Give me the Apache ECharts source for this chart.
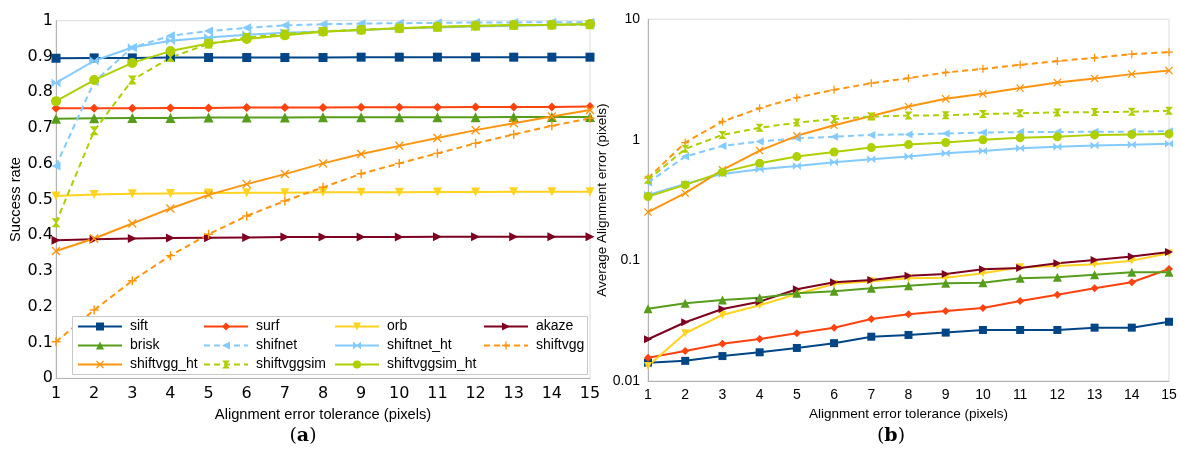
<!DOCTYPE html>
<html>
<head>
<meta charset="utf-8">
<script src="https://cdn.jsdelivr.net/npm/echarts@6/dist/echarts.min.js"></script>
<style>html,body{margin:0;padding:0;background:#fff}#c{width:1180px;height:450px}</style>
</head>
<body>
<div id="c"></div>
<script>
// ---- data ----
var categories = ['1','2','3','4','5','6','7','8','9','10','11','12','13','14','15'];
var leftTicks = ['0','0.1','0.2','0.3','0.4','0.5','0.6','0.7','0.8','0.9','1'];
var rightTicks = ['0.01','0.1','1','10'];

// (a) Success rate
var sift_sr = [0.895,0.896,0.896,0.897,0.897,0.897,0.897,0.897,0.898,0.898,0.898,0.898,0.898,0.898,0.898];
var surf_sr = [0.755,0.755,0.755,0.756,0.756,0.757,0.757,0.757,0.758,0.758,0.758,0.759,0.759,0.759,0.760];
var orb_sr = [0.510,0.514,0.516,0.517,0.518,0.519,0.519,0.520,0.520,0.520,0.521,0.521,0.522,0.522,0.522];
var akaze_sr = [0.386,0.389,0.391,0.392,0.393,0.394,0.395,0.395,0.395,0.395,0.396,0.396,0.396,0.396,0.396];
var brisk_sr = [0.726,0.727,0.728,0.728,0.729,0.729,0.729,0.730,0.730,0.730,0.730,0.730,0.731,0.731,0.731];
var shifnet_sr = [0.594,0.829,0.925,0.958,0.971,0.980,0.987,0.990,0.992,0.993,0.994,0.995,0.995,0.996,0.996];
var shiftnet_ht_sr = [0.826,0.888,0.925,0.944,0.953,0.961,0.966,0.970,0.974,0.978,0.981,0.984,0.986,0.988,0.990];
var shiftvgg_sr = [0.102,0.191,0.273,0.343,0.403,0.454,0.496,0.534,0.572,0.601,0.629,0.657,0.682,0.706,0.727];
var shiftvgg_ht_sr = [0.356,0.391,0.433,0.475,0.513,0.543,0.571,0.601,0.627,0.650,0.672,0.694,0.713,0.732,0.750];
var shiftvggsim_sr = [0.435,0.692,0.834,0.897,0.935,0.953,0.963,0.970,0.975,0.979,0.982,0.985,0.987,0.988,0.989];
var shiftvggsim_ht_sr = [0.775,0.834,0.882,0.915,0.936,0.949,0.959,0.969,0.974,0.979,0.983,0.986,0.988,0.989,0.991];

// (b) Average alignment error (pixels)
var sift_ae = [0.0142,0.0147,0.0161,0.0173,0.0188,0.0206,0.0233,0.0241,0.0252,0.0265,0.0265,0.0265,0.0277,0.0277,0.0310];
var surf_ae = [0.0156,0.0177,0.0204,0.0223,0.0249,0.0277,0.0327,0.0357,0.0381,0.0403,0.0461,0.0520,0.0588,0.0659,0.0850];
var orb_ae = [0.0133,0.0249,0.0353,0.0425,0.0527,0.0638,0.0672,0.0711,0.0720,0.0783,0.0878,0.0900,0.0930,0.0996,0.1147];
var akaze_ae = [0.0222,0.0307,0.0396,0.0455,0.0577,0.0659,0.0689,0.0748,0.0773,0.0845,0.0867,0.0948,0.1010,0.1076,0.1177];
var brisk_ae = [0.0398,0.0442,0.0470,0.0491,0.0534,0.0555,0.0588,0.0618,0.0647,0.0654,0.0711,0.0725,0.0762,0.0798,0.0798];
var shifnet_ae = [0.442,0.727,0.89,0.97,1.03,1.06,1.10,1.11,1.13,1.15,1.16,1.16,1.17,1.17,1.18];
var shiftnet_ht_ae = [0.350,0.431,0.522,0.571,0.608,0.653,0.691,0.727,0.775,0.810,0.853,0.875,0.897,0.910,0.927];
var shiftvgg_ae = [0.481,0.95,1.42,1.83,2.24,2.60,2.95,3.25,3.62,3.88,4.19,4.50,4.79,5.14,5.34];
var shiftvgg_ht_ae = [0.252,0.361,0.564,0.815,1.08,1.32,1.58,1.89,2.19,2.41,2.69,2.99,3.23,3.51,3.76];
var shiftvggsim_ae = [0.466,0.842,1.10,1.26,1.39,1.49,1.56,1.59,1.60,1.64,1.66,1.69,1.70,1.71,1.74];
var shiftvggsim_ht_ae = [0.339,0.423,0.540,0.641,0.727,0.794,0.863,0.914,0.950,1.00,1.04,1.06,1.10,1.11,1.12];

var names = ['sift','surf','orb','akaze','brisk','shifnet','shiftnet_ht','shiftvgg','shiftvgg_ht','shiftvggsim','shiftvggsim_ht'];
var srData = [sift_sr,surf_sr,orb_sr,akaze_sr,brisk_sr,shifnet_sr,shiftnet_ht_sr,shiftvgg_sr,shiftvgg_ht_sr,shiftvggsim_sr,shiftvggsim_ht_sr];
var aeData = [sift_ae,surf_ae,orb_ae,akaze_ae,brisk_ae,shifnet_ae,shiftnet_ht_ae,shiftvgg_ae,shiftvgg_ht_ae,shiftvggsim_ae,shiftvggsim_ht_ae];

// ---- styles ----
var SYM = {
  square: 'rect',
  diamond: 'diamond',
  down: 'path://M0,0 L10,0 L5,10 Z',
  right: 'path://M0,0 L10,5 L0,10 Z',
  up: 'triangle',
  left: 'path://M10,0 L0,5 L10,10 Z',
  bowtie: 'path://M0,0 L5,4.3 L10,0 L10,10 L5,5.7 L0,10 Z',
  plus: 'path://M4.2,0 H5.8 V4.2 H10 V5.8 H5.8 V10 H4.2 V5.8 H0 V4.2 H4.2 Z',
  cross: 'path://M0,1.1 L1.1,0 L5,3.9 L8.9,0 L10,1.1 L6.1,5 L10,8.9 L8.9,10 L5,6.1 L1.1,10 L0,8.9 L3.9,5 Z',
  hourglass: 'path://M0,0 H10 L5.6,5 L10,10 H0 L4.4,5 Z',
  circle: 'circle'
};
var styles = {
  sift: {color:'#004586', symbol:SYM.square, size:9, dash:'solid'},
  surf: {color:'#ff420e', symbol:SYM.diamond, size:9, dash:'solid'},
  orb: {color:'#ffd320', symbol:SYM.down, size:9, dash:'solid'},
  akaze: {color:'#7e0021', symbol:SYM.right, size:9, dash:'solid'},
  brisk: {color:'#579d1c', symbol:SYM.up, size:10, dash:'solid'},
  shifnet: {color:'#83caff', symbol:SYM.left, size:9, dash:[6,4]},
  shiftnet_ht: {color:'#83caff', symbol:SYM.bowtie, size:9, dash:'solid'},
  shiftvgg: {color:'#ff950e', symbol:SYM.plus, size:9, dash:[6,4]},
  shiftvgg_ht: {color:'#ff950e', symbol:SYM.cross, size:9, dash:'solid'},
  shiftvggsim: {color:'#aecf00', symbol:SYM.hourglass, size:9, dash:[6,4]},
  shiftvggsim_ht: {color:'#aecf00', symbol:SYM.circle, size:10, dash:'solid'}
};

var series = [];
names.forEach(function(n, i){
  var s = styles[n];
  [0,1].forEach(function(g){
    series.push({
      name: n, type: 'line',
      xAxisIndex: g, yAxisIndex: g,
      data: g === 0 ? srData[i] : aeData[i],
      symbol: s.symbol, symbolSize: g === 0 ? s.size : s.size - 1,
      showSymbol: true,
      lineStyle: {color: s.color, width: 2, type: s.dash},
      itemStyle: {color: s.color},
      z: 2
    });
  });
});

var fontSans = '"Liberation Sans", Arial, sans-serif';
var axisLineStyle = {color:'#b3b3b3', width:1};

function legendCol(left, data){
  return {
    orient: 'vertical', left: left, top: 319.5, padding: 0,
    itemWidth: 44, itemHeight: 10, itemGap: 5, z: 10,
    data: data,
    textStyle: {fontFamily: fontSans, fontSize: 14, color: '#000', padding: [0,0,0,3], lineHeight: 14}
  };
}

var option = {
  animation: false,
  backgroundColor: '#fff',
  grid: [
    {left: 56, right: 590, top: 20.7, bottom: 71.7, show: true, borderColor: '#dcdcdc', borderWidth: 1},
    {left: 648, right: 11, top: 19.3, bottom: 69, show: true, borderColor: '#dcdcdc', borderWidth: 1}
  ],
  xAxis: [
    {type:'category', gridIndex:0, data: categories, boundaryGap:false,
     axisLine:{lineStyle:axisLineStyle}, axisTick:{show:false},
     axisLabel:{fontFamily:'"DejaVu Sans", sans-serif', fontSize:16, color:'#000', margin:8},
     name:'Alignment error tolerance (pixels)', nameLocation:'middle', nameGap:24,
     nameTextStyle:{fontFamily:fontSans, fontSize:14.7, color:'#000'}},
    {type:'category', gridIndex:1, data: categories, boundaryGap:false,
     axisLine:{lineStyle:axisLineStyle}, axisTick:{show:false},
     axisLabel:{fontFamily:fontSans, fontSize:14, color:'#000', margin:7},
     name:'Alignment error tolerance (pixels)', nameLocation:'middle', nameGap:22,
     nameTextStyle:{fontFamily:fontSans, fontSize:13.5, color:'#000'}}
  ],
  yAxis: [
    {type:'value', gridIndex:0, min:0, max:1, interval:0.1,
     axisLine:{show:true, lineStyle:axisLineStyle}, axisTick:{show:false}, splitLine:{show:false},
     axisLabel:{fontFamily:'"DejaVu Sans", sans-serif', fontSize:16, color:'#000', margin:3,
       formatter:function(v){ return leftTicks[Math.round(v*10)]; }},
     name:'Success rate', nameLocation:'middle', nameGap:33,
     nameTextStyle:{fontFamily:fontSans, fontSize:14.7, color:'#000'}},
    {type:'log', gridIndex:1, logBase:10, min:0.01, max:10,
     axisLine:{show:true, lineStyle:axisLineStyle}, axisTick:{show:false}, splitLine:{show:false},
     axisLabel:{fontFamily:fontSans, fontSize:14, color:'#000', margin:8,
       formatter:function(v){ var k = Math.round(Math.log10(v)) + 2; return rightTicks[k]; }},
     name:'Average Alignment error (pixels)', nameLocation:'middle', nameGap:30,
     nameTextStyle:{fontFamily:fontSans, fontSize:13.5, color:'#000'}}
  ],
  legend: [
    legendCol(77, ['sift','brisk','shiftvgg_ht']),
    legendCol(203, ['surf','shifnet','shiftvggsim']),
    legendCol(334, ['orb','shiftnet_ht','shiftvggsim_ht']),
    legendCol(483, ['akaze','shiftvgg'])
  ],
  graphic: [
    {type:'rect', z:9, shape:{x:72.5, y:316.5, width:515, height:58},
     style:{fill:'#fff', stroke:'#c8c8c8', lineWidth:1}},
    {type:'text', z:10, x:303, y:436,
     style:{text:'{p|(}{b|a}{p|)}', align:'center', verticalAlign:'middle',
       rich:{p:{fontFamily:'"DejaVu Serif", "Liberation Serif", serif', fontSize:19, fill:'#000'},
             b:{fontFamily:'"DejaVu Serif", "Liberation Serif", serif', fontSize:19, fontWeight:'bold', fill:'#000'}}}},
    {type:'text', z:10, x:891, y:436,
     style:{text:'{p|(}{b|b}{p|)}', align:'center', verticalAlign:'middle',
       rich:{p:{fontFamily:'"DejaVu Serif", "Liberation Serif", serif', fontSize:19, fill:'#000'},
             b:{fontFamily:'"DejaVu Serif", "Liberation Serif", serif', fontSize:19, fontWeight:'bold', fill:'#000'}}}}
  ],
  series: series
};

var chart = echarts.init(document.getElementById('c'), null, {renderer:'canvas'});
chart.setOption(option);
</script>
</body>
</html>
